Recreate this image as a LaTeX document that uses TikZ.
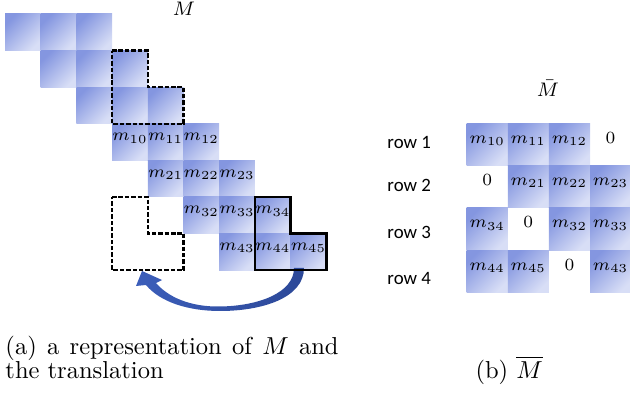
\documentclass[tikz,border=0pt]{standalone}
\usepackage{fontspec}
\newfontfamily\rowfont{Carlito}
\definecolor{cellDark}{RGB}{132,150,224}
\definecolor{cellLight}{RGB}{216,222,246}
\definecolor{arrowEnd}{RGB}{44,72,152}
\definecolor{arrowHead}{RGB}{60,94,186}
\definecolor{arrowMid}{RGB}{176,192,236}
\newcommand\cellfont{\fontsize{6.8}{7}\selectfont}
\newcommand\titlefont{\fontsize{8.5}{9}\selectfont}
\tikzset{
  lcell/.style={rectangle, inner sep=0pt, outer sep=0pt,
    minimum width=35.7*0.408pt, minimum height=36.6*0.408pt,
    top color=cellDark, bottom color=cellLight, shading angle=45},
  rcell/.style={lcell, minimum width=41.1*0.408pt, minimum height=42.35*0.408pt},
  mlabel/.style={inner sep=0pt, font=\cellfont, yshift=1.6pt},
  zlabel/.style={inner sep=0pt, font=\cellfont, yshift=2.8pt},
  rowlbl/.style={inner sep=0pt, anchor=west, font=\rowfont\fontsize{7.7}{8}\selectfont},
  holeline/.style={draw=black, line width=1pt, dash pattern=on 1.8pt off 0.8pt, line join=miter},
  blockline/.style={draw=black, line width=1pt, line join=miter},
  caption/.style={inner sep=0pt, anchor=base west, font=\fontsize{10}{10}\selectfont}
}
\begin{document}
\begin{tikzpicture}[x=0.408pt, y=-0.408pt]
\useasboundingbox (0,0) rectangle (630,394);

% ---- left: banded storage of M ----
\foreach \r in {0,...,6} {
  \foreach \k in {0,1,2} {
    \pgfmathtruncatemacro\c{\r+\k}
    \node[lcell] (L-\r-\c) at ({5+35.7*(\c+0.5)}, {14+36.6*(\r+0.5)}) {};
    \ifnum\r>2
      \pgfmathtruncatemacro\i{\r-2}
      \pgfmathtruncatemacro\j{\r-3+\k}
      \node[mlabel] (T-\r-\c) at (L-\r-\c) {$m_{\i\j}$};
    \fi
  }
}
\node[inner sep=0pt, font=\titlefont] (title-M) at (184,9) {$M$};

% empty slot that receives the moved entries
\coordinate (hole-a) at (112.1,197.0);
\coordinate (hole-b) at (147.8,197.0);
\coordinate (hole-c) at (147.8,233.6);
\coordinate (hole-d) at (183.5,233.6);
\coordinate (hole-e) at (183.5,270.2);
\coordinate (hole-f) at (112.1,270.2);
\draw[holeline] (hole-a) -- (hole-b) -- (hole-c) -- (hole-d) -- (hole-e) -- (hole-f) -- cycle;

% upper dashed outline
\draw[holeline] (L-1-3.north west) -- (L-1-3.north east) -- (L-2-4.north west)
  -- (L-2-4.north east) -- (L-2-4.south east) -- (L-2-3.south west) -- cycle;

% curved translation arrow
\coordinate (arr-in) at (294,268);
\coordinate (arr-out) at (304,268);
\coordinate (arr-tip) at (142,271);
\shade[left color=arrowHead, middle color=arrowMid, right color=arrowEnd]
  (arr-in) .. controls (294,293) and (258,306) .. (220,306.5)
  .. controls (190,307) and (168,297) .. (156,283)
  -- (162,280) -- (arr-tip) -- (136,286) -- (146,285)
  .. controls (160,302) and (188,311) .. (220,311)
  .. controls (262,311) and (304,298) .. (arr-out) -- cycle;

% moved block
\draw[blockline] (L-5-7.north west) -- (L-5-7.north east) -- (L-6-8.north west)
  -- (L-6-8.north east) -- (L-6-8.south east) -- (L-6-7.south west) -- cycle;

% ---- right: the matrix M-bar ----
\node[inner sep=0pt, font=\titlefont] (title-Mbar) at (548,88) {$\bar{M}$};
\foreach \r/\c/\lab in {0/0/10, 0/1/11, 0/2/12,
                        1/1/21, 1/2/22, 1/3/23,
                        2/0/34, 2/2/32, 2/3/33,
                        3/0/44, 3/1/45, 3/3/43} {
  \node[rcell] (R-\r-\c) at ({466.7+41.1*(\c+0.5)}, {123.3+42.35*(\r+0.5)}) {};
  \node[mlabel] (S-\r-\c) at (R-\r-\c) {$m_{\lab}$};
}
\foreach \r/\c in {0/3, 1/0, 2/1, 3/2} {
  \node[zlabel] (Z-\r-\c) at ({466.7+41.1*(\c+0.5)}, {123.3+42.35*(\r+0.5)}) {$0$};
}
\node[rowlbl] (row-1) at (387,142) {row 1};
\node[rowlbl] (row-2) at (387,185) {row 2};
\node[rowlbl] (row-3) at (387,232) {row 3};
\node[rowlbl] (row-4) at (387,279) {row 4};

% ---- captions ----
\node[caption] (cap-a1) at (5,354) {\makebox[135.9pt][s]{(a) a representation of $M$ and}};
\node[caption] (cap-a2) at (5,378) {the translation};
\node[caption] (cap-b) at (475,378) {(b) $\overline{M}$};
\end{tikzpicture}
\end{document}
